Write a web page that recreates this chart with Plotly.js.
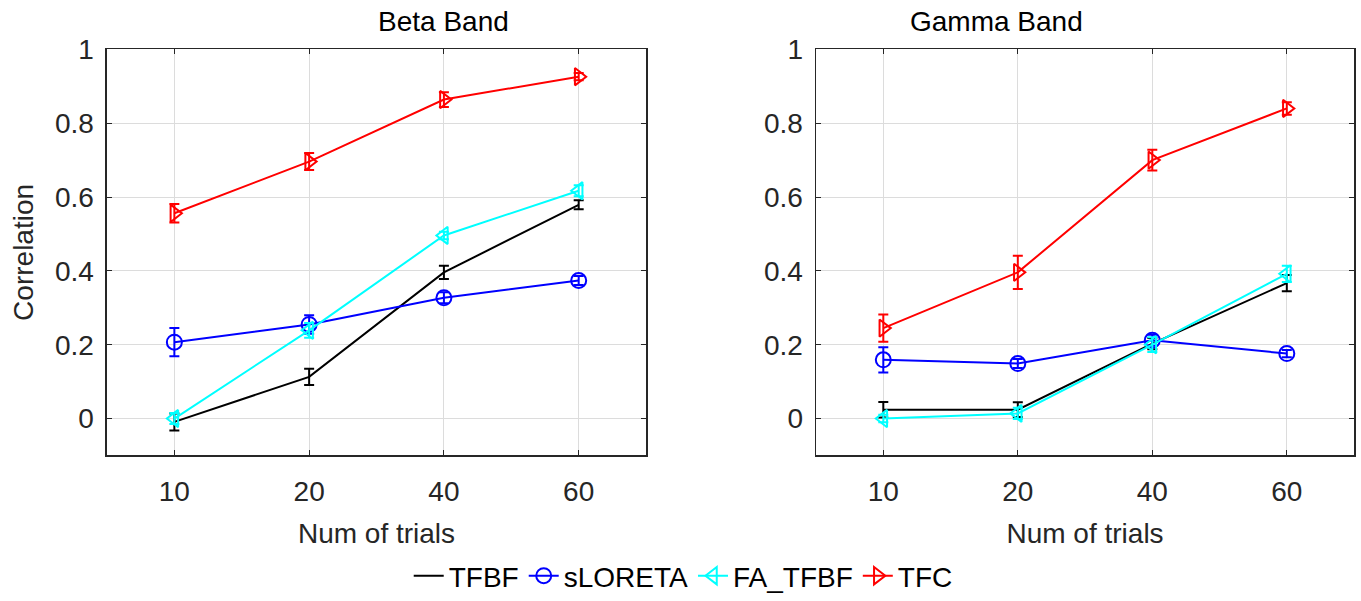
<!DOCTYPE html>
<html>
<head>
<meta charset="utf-8">
<script src="https://cdn.plot.ly/plotly-3.0.1.min.js"></script>
<style>html,body{margin:0;padding:0;background:#fff;}#chart{width:1361px;height:601px;}</style>
</head>
<body>
<div id="chart"></div>
<script>
const trials = ["10", "20", "40", "60"];
const seriesNames = ["TFBF", "sLORETA", "FA_TFBF", "TFC"];

// Beta band
const betaTFBF = [-0.009, 0.113, 0.396, 0.579];
const betaTFBFErr = [0.023, 0.022, 0.018, 0.012];
const betaSLORETA = [0.207, 0.255, 0.327, 0.374];
const betaSLORETAErr = [0.038, 0.025, 0.015, 0.012];
const betaFATFBF = [0.0, 0.239, 0.496, 0.617];
const betaFATFBFErr = [0.015, 0.02, 0.01, 0.015];
const betaTFC = [0.556, 0.696, 0.864, 0.926];
const betaTFCErr = [0.025, 0.023, 0.02, 0.01];

// Gamma band
const gammaTFBF = [0.024, 0.024, 0.203, 0.367];
const gammaTFBFErr = [0.021, 0.02, 0.015, 0.022];
const gammaSLORETA = [0.159, 0.149, 0.212, 0.176];
const gammaSLORETAErr = [0.034, 0.012, 0.015, 0.01];
const gammaFATFBF = [0.0, 0.014, 0.2, 0.392];
const gammaFATFBFErr = [0.01, 0.015, 0.02, 0.022];
const gammaTFC = [0.245, 0.396, 0.700, 0.840];
const gammaTFCErr = [0.037, 0.045, 0.028, 0.017];

const colors = ["#000000", "#0000ff", "#00ffff", "#ff0000"];
const symbols = [null, "circle-open", "triangle-left-open", "triangle-right-open"];

function mk(name, idx, y, err, xa, ya, show) {
  const t = {
    x: trials, y: y, name: name, type: "scatter",
    xaxis: xa, yaxis: ya, showlegend: show, legendgroup: name,
    mode: symbols[idx] ? "lines+markers" : "lines",
    line: {color: colors[idx], width: 2},
    error_y: {type: "data", array: err, visible: true, color: colors[idx], thickness: 2, width: 5},
    cliponaxis: false
  };
  if (symbols[idx]) t.marker = {symbol: symbols[idx], size: 15, color: colors[idx], line: {color: colors[idx], width: 2}};
  return t;
}

const data = [
  mk(seriesNames[0], 0, betaTFBF, betaTFBFErr, "x", "y", true),
  mk(seriesNames[1], 1, betaSLORETA, betaSLORETAErr, "x", "y", true),
  mk(seriesNames[2], 2, betaFATFBF, betaFATFBFErr, "x", "y", true),
  mk(seriesNames[3], 3, betaTFC, betaTFCErr, "x", "y", true),
  mk(seriesNames[0], 0, gammaTFBF, gammaTFBFErr, "x2", "y2", false),
  mk(seriesNames[1], 1, gammaSLORETA, gammaSLORETAErr, "x2", "y2", false),
  mk(seriesNames[2], 2, gammaFATFBF, gammaFATFBFErr, "x2", "y2", false),
  mk(seriesNames[3], 3, gammaTFC, gammaTFCErr, "x2", "y2", false)
];

const FAM = "Liberation Sans, Arial, sans-serif";
const font = {family: FAM, size: 28, color: "#262626"};
function xax(domain, anchor) {
  return {
    domain: domain, anchor: anchor, type: "category", range: [-0.5, 3.5],
    showline: true, mirror: "allticks", linecolor: "#262626", linewidth: 1.5,
    ticks: "inside", ticklen: 5, tickcolor: "#262626", tickwidth: 1,
    showgrid: true, gridcolor: "#dcdcdc", gridwidth: 1, zeroline: false,
    tickfont: font, ticklabelstandoff: 10,
    title: {text: "Num of trials", font: font, standoff: 18}
  };
}
function yax(anchor, withTitle) {
  const a = {
    domain: [0.2396, 0.9176], anchor: anchor, range: [-0.1, 1],
    tickvals: [0, 0.2, 0.4, 0.6, 0.8, 1], ticktext: ["0", "0.2", "0.4", "0.6", "0.8", "1"],
    showline: true, mirror: "allticks", linecolor: "#262626", linewidth: 1.5,
    ticks: "inside", ticklen: 5, tickcolor: "#262626", tickwidth: 1,
    showgrid: true, gridcolor: "#dcdcdc", gridwidth: 1, zeroline: false,
    tickfont: font, ticklabelstandoff: 6
  };
  if (withTitle) a.title = {text: "Correlation", font: font, standoff: 13};
  return a;
}

const layout = {
  width: 1361, height: 601,
  margin: {l: 0, r: 0, t: 0, b: 0},
  paper_bgcolor: "#ffffff", plot_bgcolor: "#ffffff",
  font: font,
  showlegend: true,
  legend: {
    orientation: "h", x: 0.502, xanchor: "center", y: 0.038, yanchor: "middle",
    font: {family: FAM, size: 28, color: "#000"},
    bgcolor: "rgba(0,0,0,0)", itemwidth: 30, tracegroupgap: 0
  },
  xaxis: xax([0.0786, 0.4747], "y"),
  yaxis: yax("x", true),
  xaxis2: xax([0.5996, 0.9949], "y2"),
  yaxis2: yax("x2", false),
  annotations: [
    {text: "Beta Band", x: 0.2766, xref: "paper", yref: "paper", yanchor: "middle", showarrow: false, font: {family: FAM, size: 28, color: "#000"}},
    {text: "Gamma Band", x: 0.7972, xref: "paper", yref: "paper", yanchor: "middle", showarrow: false, font: {family: FAM, size: 28, color: "#000"}}
  ]
};
layout.annotations[0].y = (601 - 22) / 601;
layout.annotations[1].y = (601 - 22) / 601;

Plotly.newPlot("chart", data, layout, {staticPlot: true, displayModeBar: false});
</script>
</body>
</html>
